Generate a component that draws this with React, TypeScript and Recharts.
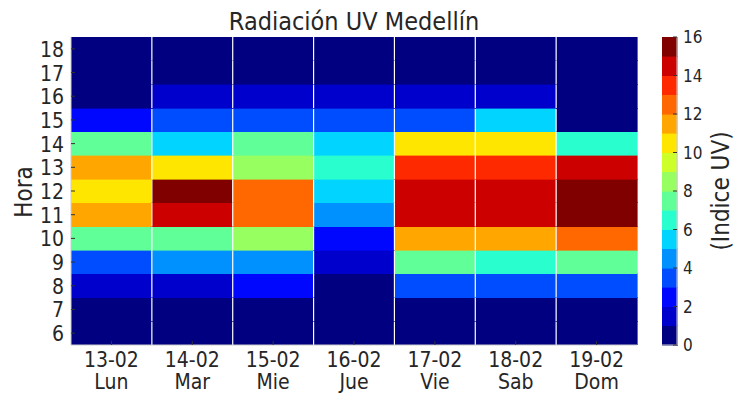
import React from 'react';
import { BarChart, Bar, XAxis, YAxis, Label } from 'recharts';

// fechas y dias de la semana
const days = ['13-02', '14-02', '15-02', '16-02', '17-02', '18-02', '19-02'];
const weekdays = ['Lun', 'Mar', 'Mie', 'Jue', 'Vie', 'Sab', 'Dom'];
const hours = [6, 7, 8, 9, 10, 11, 12, 13, 14, 15, 16, 17, 18];

// indice UV por hora (6h..18h)
const uvLun = [0.5, 0.5, 1.5, 3.5, 7.5, 11.5, 10.5, 11.5, 7.5, 2.5, 0.5, 0.5, 0.5];
const uvMar = [0.5, 0.5, 1.5, 4.5, 7.5, 14.5, 15.5, 10.5, 5.5, 3.5, 1.5, 0.5, 0.5];
const uvMie = [0.5, 0.5, 2.5, 4.5, 8.5, 12.5, 12.5, 8.5, 7.5, 3.5, 1.5, 0.5, 0.5];
const uvJue = [0.5, 0.5, 0.5, 1.5, 2.5, 4.5, 5.5, 6.5, 5.5, 3.5, 1.5, 0.5, 0.5];
const uvVie = [0.5, 0.5, 3.5, 7.5, 11.5, 14.5, 14.5, 13.5, 10.5, 3.5, 1.5, 0.5, 0.5];
const uvSab = [0.5, 0.5, 3.5, 6.5, 11.5, 14.5, 14.5, 13.5, 10.5, 5.5, 1.5, 0.5, 0.5];
const uvDom = [0.5, 0.5, 3.5, 7.5, 12.5, 15.5, 15.5, 14.5, 6.5, 0.5, 0.5, 0.5, 0.5];
const uvByDay = [uvLun, uvMar, uvMie, uvJue, uvVie, uvSab, uvDom];

// barra de color 0..16
const levels = [0, 1, 2, 3, 4, 5, 6, 7, 8, 9, 10, 11, 12, 13, 14, 15];
const cbTicks = [0, 2, 4, 6, 8, 10, 12, 14, 16];
const jet = [
  '#000080', '#0000cc', '#0007ff', '#004cff', '#0091ff', '#00d4ff', '#29ffce', '#60ff97',
  '#97ff60', '#cdff29', '#ffe600', '#ffa700', '#ff6800', '#ff2900', '#cd0000', '#800000',
];

const FONT = '"DejaVu Sans Condensed", "DejaVu Sans", sans-serif';
const TXT = '#262626';
const EDGE = '#cccccc';
const txtStyle: React.CSSProperties = { fontStretch: 'condensed' };

const colorFor = (v: number) => jet[Math.max(0, Math.min(15, Math.floor(v)))];

const table = days.map((d, i) => {
  const row: any = { day: d, wd: weekdays[i], base: 5.5 };
  hours.forEach((h) => (row[`h${h}`] = 1));
  return row;
});

const cbData = [{ name: 'cb', ...Object.fromEntries(levels.map((l) => [`l${l}`, 1])) }];

const CellShape = (props: any) => {
  const { x, y, width, height, fill, index } = props;
  return (
    <g>
      <rect x={x} y={y} width={width} height={height} fill={fill} stroke={fill} strokeWidth={0.6} shapeRendering="crispEdges" />
      {index > 0 && <line x1={x} x2={x} y1={y} y2={y + height} stroke="#ffffff" strokeWidth={1.2} />}
    </g>
  );
};

const CbShape = (props: any) => {
  const { x, y, width, height, fill } = props;
  return <rect x={x} y={y} width={width} height={height} fill={fill} stroke={fill} strokeWidth={0.6} shapeRendering="crispEdges" />;
};

const HourTick = (props: any) => {
  const { x, y, payload } = props;
  return (
    <g>
      <line x1={x} x2={x + 4} y1={y} y2={y} stroke="#333" />
      <text x={x - 7} y={y} dy="0.38em" textAnchor="end" fontSize={21} fontFamily={FONT} style={txtStyle} fill={TXT}>
        {payload.value}
      </text>
    </g>
  );
};

const DayTick = (props: any) => {
  const { x, y, payload, index } = props;
  return (
    <g>
      <line x1={x} x2={x} y1={y} y2={y - 4} stroke="#333" />
      <text x={x} y={y + 22} textAnchor="middle" fontSize={21} fontFamily={FONT} style={txtStyle} fill={TXT}>
        <tspan x={x}>{payload.value}</tspan>
        <tspan x={x} dy={22}>{weekdays[index]}</tspan>
      </text>
    </g>
  );
};

const CbTick = (props: any) => {
  const { x, y, payload } = props;
  return (
    <g>
      <line x1={x} x2={x - 4} y1={y} y2={y} stroke="#333" />
      <text x={x + 6} y={y} dy="0.36em" textAnchor="start" fontSize={17} fontFamily={FONT} style={txtStyle} fill={TXT}>
        {payload.value}
      </text>
    </g>
  );
};

const App: React.FC = () => {
  return (
    <div style={{ position: 'absolute', left: 0, top: 0, width: 743, height: 401, background: '#fff' }}>
      <div
        style={{
          position: 'absolute', left: 0, top: 9, width: 708, textAlign: 'center',
          fontFamily: FONT, fontStretch: 'condensed', fontSize: 25, lineHeight: '25px', color: TXT,
        }}
      >
        Radiación UV Medellín
      </div>
      <div style={{ position: 'absolute', left: 0, top: 0 }}>
        <BarChart
          width={743}
          height={401}
          data={table}
          margin={{ top: 37, right: 106, bottom: 0, left: 0 }}
          barCategoryGap={0}
          barGap={0}
        >
          <XAxis
            dataKey="day"
            height={56}
            tickSize={0}
            tickMargin={0}
            tickLine={false}
            axisLine={{ stroke: EDGE }}
            tick={<DayTick />}
            interval={0}
          />
          <XAxis xAxisId="top" dataKey="day" orientation="top" height={0} tick={false} tickLine={false} axisLine={{ stroke: EDGE }} />
          <YAxis
            type="number"
            domain={[5.5, 18.5]}
            allowDataOverflow
            ticks={hours}
            interval={0}
            width={71}
            tickSize={0}
            tickMargin={0}
            tickLine={false}
            axisLine={{ stroke: EDGE }}
            tick={<HourTick />}
          >
            <Label
              content={() => (
                <text
                  transform="translate(23,192) rotate(-90)"
                  textAnchor="middle"
                  dy="0.36em"
                  fontSize={24}
                  fontFamily={FONT}
                  style={txtStyle}
                  fill={TXT}
                >
                  Hora
                </text>
              )}
            />
          </YAxis>
          <YAxis yAxisId="r" orientation="right" type="number" domain={[5.5, 18.5]} width={0} tick={false} tickLine={false} axisLine={{ stroke: EDGE }} />
          <Bar dataKey="base" stackId="a" fill="transparent" isAnimationActive={false} />
          {hours.map((h, hi) => (
            <Bar
              key={h}
              dataKey={`h${h}`}
              stackId="a"
              isAnimationActive={false}
              shape={(p: any) => <CellShape {...p} fill={colorFor(uvByDay[p.index][hi])} />}
            />
          ))}
        </BarChart>
      </div>
      <div style={{ position: 'absolute', left: 640, top: 0 }}>
        <BarChart width={103} height={401} data={cbData} margin={{ top: 37, right: 0, bottom: 0, left: 22 }} barCategoryGap={0}>
          <XAxis dataKey="name" height={56} tick={false} tickLine={false} axisLine={{ stroke: EDGE }} />
          <XAxis xAxisId="top" dataKey="name" orientation="top" height={0} tick={false} tickLine={false} axisLine={{ stroke: EDGE }} />
          <YAxis yAxisId="l" type="number" domain={[0, 16]} width={0} tick={false} tickLine={false} axisLine={{ stroke: EDGE }} />
          <YAxis
            type="number"
            orientation="right"
            domain={[0, 16]}
            ticks={cbTicks}
            interval={0}
            width={66}
            tickSize={0}
            tickMargin={0}
            tickLine={false}
            axisLine={{ stroke: EDGE }}
            tick={<CbTick />}
          >
            <Label
              content={() => (
                <text
                  transform="translate(80,191) rotate(-90)"
                  textAnchor="middle"
                  dy="0.36em"
                  fontSize={24}
                  fontFamily={FONT}
                  style={txtStyle}
                  fill={TXT}
                >
                  (Indice UV)
                </text>
              )}
            />
          </YAxis>
          {levels.map((l) => (
            <Bar key={l} dataKey={`l${l}`} stackId="c" fill={jet[l]} isAnimationActive={false} shape={(p: any) => <CbShape {...p} fill={jet[l]} />} />
          ))}
        </BarChart>
      </div>
    </div>
  );
};

export default App;
